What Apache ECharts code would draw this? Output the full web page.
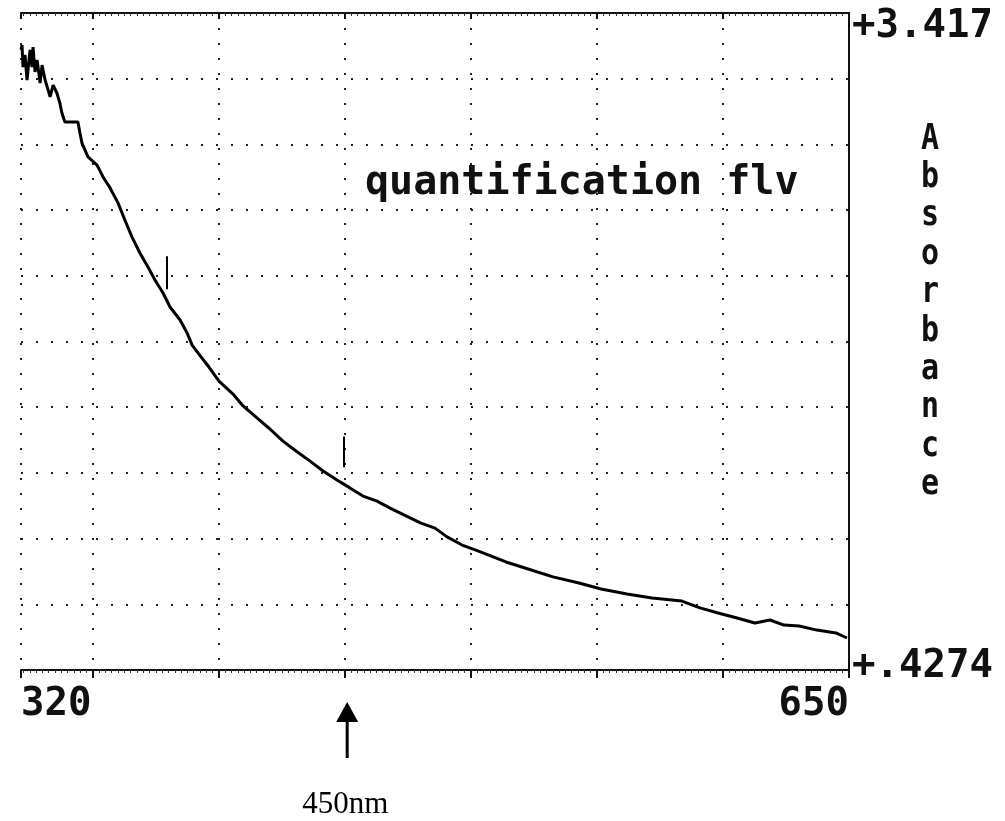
<!DOCTYPE html>
<html>
<head>
<meta charset="utf-8">
<script src="https://cdn.jsdelivr.net/npm/echarts@6/dist/echarts.min.js"></script>
<style>
  html, body { margin: 0; padding: 0; background: #fff; }
  #chart { width: 1005px; height: 821px; }
</style>
</head>
<body>
<div id="chart"></div>
<script>
// wavelength (nm) and absorbance
var wavelength = [320.0, 320.4, 320.8, 321.6, 322.4, 323.2, 323.6, 324.4, 324.8, 325.6,
  326.4, 326.8, 327.6, 328.4, 328.8, 329.6, 330.8, 331.6, 332.8, 334.3,
  335.5, 336.3, 337.5, 342.7, 343.5, 344.3, 346.7, 350.3, 352.7, 355.5,
  358.7, 361.4, 364.2, 367.4, 370.6, 373.4, 376.6, 379.4, 383.4, 386.2,
  388.2, 390.9, 394.9, 398.9, 404.5, 408.5, 413.7, 419.2, 424.4, 429.6,
  435.2, 440.4, 445.9, 451.1, 456.3, 461.9, 467.1, 472.6, 479.4, 485.0,
  489.8, 495.8, 501.3, 513.3, 522.1, 532.0, 542.4, 551.2, 561.5, 571.5,
  583.4, 590.6, 597.8, 605.4, 612.5, 618.5, 624.1, 630.1, 637.2, 644.8, 649.2];
var absorbance = [3.249, 3.271, 3.171, 3.226, 3.112, 3.203, 3.249, 3.171, 3.262, 3.149,
  3.203, 3.171, 3.098, 3.180, 3.157, 3.112, 3.067, 3.035, 3.089, 3.053,
  3.007, 2.962, 2.921, 2.921, 2.871, 2.825, 2.762, 2.725, 2.671, 2.621,
  2.552, 2.475, 2.398, 2.325, 2.261, 2.202, 2.143, 2.079, 2.020, 1.961,
  1.906, 1.865, 1.806, 1.742, 1.683, 1.629, 1.578, 1.524, 1.469, 1.424,
  1.378, 1.333, 1.292, 1.256, 1.219, 1.196, 1.164, 1.133, 1.096, 1.073,
  1.033, 0.996, 0.973, 0.919, 0.887, 0.851, 0.823, 0.796, 0.773, 0.755,
  0.741, 0.710, 0.687, 0.664, 0.641, 0.655, 0.632, 0.628, 0.609, 0.596, 0.573];

// cursor marks: [nm, low, high]
var cursors = [[378, 2.16, 2.31], [448.5, 1.35, 1.49]];

var xRange = [320, 650];
var yRange = [0.4274, 3.417];
var yLabels = ['+.4274', '+3.417'];
var xGridDivs = 6.57;   // screen divisions across, counted from the right edge
var yGridDivs = 10;
var title = 'quantification flv';
var yName = 'Absorbance';
var arrowAt = 450;
var arrowLabel = '450nm';

var mono = '"DejaVu Sans Mono", monospace';
var dots = { color: '#222', width: 2, type: [2, 13] };

var chart = echarts.init(document.getElementById('chart'));

var points = wavelength.map(function (w, i) { return [w, absorbance[i]]; });

chart.setOption({
  animation: false,
  backgroundColor: '#fff',
  title: {
    text: title,
    left: 360,
    top: 159,
    textStyle: { fontFamily: mono, fontWeight: 'bold', fontSize: 40, color: '#111' }
  },
  grid: { left: 21, right: 156, top: 13, bottom: 151, outerBoundsMode: 'none', containLabel: false },
  xAxis: [{
    type: 'value',
    min: xRange[0],
    max: xRange[1],
    position: 'bottom',
    axisLine: { show: true, lineStyle: { color: '#111', width: 2 } },
    axisTick: { show: false },
    splitLine: { show: false },
    axisLabel: {
      margin: 15,
      fontFamily: mono, fontWeight: 'bold', fontSize: 39, color: '#111',
      alignMinLabel: 'left', alignMaxLabel: 'right',
      formatter: function (v) { return (v === xRange[0] || v === xRange[1]) ? String(v) : ''; }
    }
  }, {
    type: 'value',
    inverse: true,
    min: 0, max: xGridDivs, interval: 1,
    position: 'bottom',
    axisLine: { show: false },
    axisLabel: { show: false },
    axisTick: { show: true, length: 8, lineStyle: { color: '#111', width: 2 } },
    minorTick: { show: true, splitNumber: 20, length: 3, lineStyle: { color: '#333' } },
    splitLine: { show: true, lineStyle: dots }
  }, {
    type: 'value',
    inverse: true,
    min: 0, max: xGridDivs, interval: 1,
    position: 'top',
    axisLine: { show: true, lineStyle: { color: '#111', width: 2 } },
    axisLabel: { show: false },
    axisTick: { show: true, inside: true, length: 6, lineStyle: { color: '#111', width: 2 } },
    minorTick: { show: true, splitNumber: 20, length: 3, lineStyle: { color: '#333' } },
    splitLine: { show: false }
  }],
  yAxis: [{
    type: 'value',
    min: yRange[0],
    max: yRange[1],
    position: 'right',
    axisLine: { show: true, lineStyle: { color: '#111', width: 2 } },
    axisTick: { show: false },
    splitLine: { show: false },
    axisLabel: {
      margin: 3,
      fontFamily: mono, fontWeight: 'bold', fontSize: 39, color: '#111',
      formatter: function (v) {
        if (v === yRange[1]) return '{top|' + yLabels[1] + '}';
        if (v === yRange[0]) return '{bot|' + yLabels[0] + '}';
        return '';
      },
      rich: {
        top: { fontFamily: mono, fontWeight: 'bold', fontSize: 39, color: '#111', padding: [28, 0, 0, 0] },
        bot: { fontFamily: mono, fontWeight: 'bold', fontSize: 39, color: '#111', padding: [0, 0, 6, 0] }
      }
    }
  }, {
    type: 'value',
    min: 0, max: yGridDivs, interval: 1,
    position: 'left',
    axisLine: { show: true, lineStyle: { color: '#111', width: 2 } },
    axisTick: { show: false },
    axisLabel: { show: false },
    splitLine: { show: true, lineStyle: dots }
  }],
  series: [{
    type: 'line',
    xAxisIndex: 0,
    yAxisIndex: 0,
    data: points,
    showSymbol: false,
    lineStyle: { color: '#000', width: 3 },
    z: 5,
    markLine: {
      silent: true,
      symbol: 'none',
      label: { show: false },
      lineStyle: { color: '#000', width: 2, type: 'solid' },
      data: cursors.map(function (c) {
        return [{ coord: [c[0], c[1]] }, { coord: [c[0], c[2]] }];
      })
    }
  }]
});

// arrow under the axis pointing at the marked wavelength, and the stacked axis name
var ax = chart.convertToPixel({ xAxisIndex: 0 }, arrowAt);
var axisY = chart.convertToPixel({ yAxisIndex: 0 }, yRange[0]);
var axisX = chart.convertToPixel({ xAxisIndex: 0 }, xRange[1]);
chart.setOption({
  graphic: [{
    type: 'polygon',
    shape: { points: [[ax, axisY + 32], [ax - 11, axisY + 52], [ax + 11, axisY + 52]] },
    style: { fill: '#000' }
  }, {
    type: 'rect',
    shape: { x: ax - 1.5, y: axisY + 50, width: 3, height: 38 },
    style: { fill: '#000' }
  }, {
    type: 'text',
    x: ax - 2,
    y: axisY + 119,
    style: {
      text: arrowLabel,
      fontFamily: '"Liberation Serif", serif',
      fontSize: 31,
      fill: '#000',
      align: 'center',
      verticalAlign: 'top'
    }
  }, {
    type: 'text',
    x: axisX + 81,
    y: 120,
    scaleY: 1.2,
    style: {
      text: yName.split('').join('\n'),
      fontFamily: mono,
      fontWeight: 'bold',
      fontSize: 30,
      lineHeight: 32,
      fill: '#111',
      align: 'center',
      verticalAlign: 'top'
    }
  }]
});
</script>
</body>
</html>
